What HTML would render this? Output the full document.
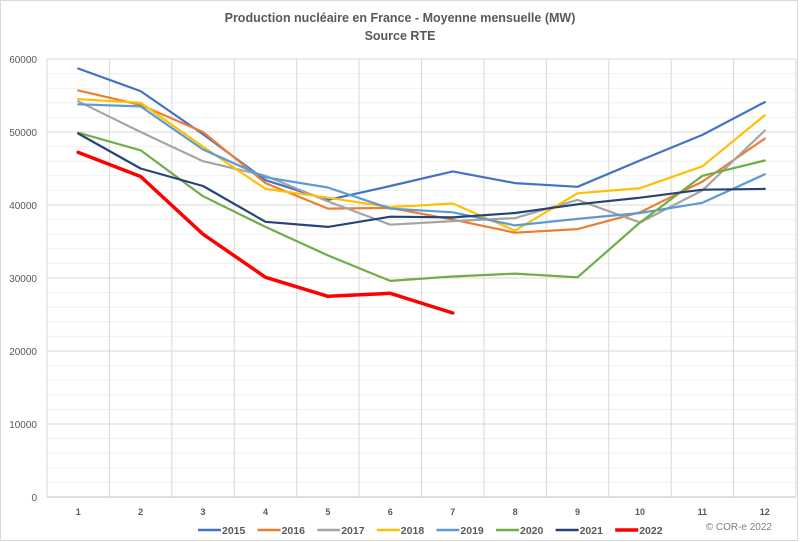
<!DOCTYPE html>
<html><head><meta charset="utf-8"><style>
html,body{margin:0;padding:0;background:#fff}
svg{display:block;font-family:"Liberation Sans",sans-serif}
</style></head><body>
<svg id="s" width="800" height="542" xmlns="http://www.w3.org/2000/svg">
<rect x="0.5" y="0.5" width="797" height="540" fill="#fff" stroke="#d9d9d9"/>
<text x="400" y="22" text-anchor="middle" font-size="12.5" font-weight="bold" fill="#595959">Production nucléaire en France - Moyenne mensuelle (MW)</text>
<text x="400" y="40" text-anchor="middle" font-size="12.5" font-weight="bold" fill="#595959">Source RTE</text>
<g id="grid"></g>
<g id="lines" fill="none" stroke-linejoin="round" stroke-linecap="round"></g>
<g id="lab" font-size="10" fill="#595959"></g>
<text x="772" y="530" text-anchor="end" font-size="10" fill="#7f7f7f">© COR-e 2022</text>
</svg>
<script>
var L=47,R=796,T=59,B=497,W=(R-L)/12,k=(B-T)/60000;
var g='',lab='';
for(var v=0;v<=60000;v+=2000){var y=B-v*k;var maj=v%10000==0;
 g+='<line x1="'+L+'" x2="'+R+'" y1="'+y+'" y2="'+y+'" stroke="'+(v==0?'#bfbfbf':(maj?'#d9d9d9':'#f0f0f0'))+'" stroke-width="1"/>';
 if(maj)lab+='<text x="37" y="'+(y+4)+'" text-anchor="end">'+v+'</text>';}
for(var i=0;i<=12;i++){var x=L+i*W;g+='<line x1="'+x+'" x2="'+x+'" y1="'+T+'" y2="'+B+'" stroke="#d9d9d9"/>';}
for(var i=0;i<12;i++){lab+='<text x="'+(L+(i+0.5)*W)+'" y="515" text-anchor="middle" font-size="9" font-weight="bold">'+(i+1)+'</text>';}
var d=[
['2015','#4472C4',2.2,[58700,55600,49700,43400,40700,42600,44600,43000,42500,46100,49600,54100]],
['2016','#ED7D31',2.2,[55700,53700,50000,43000,39500,39600,38000,36200,36700,39000,43200,49100]],
['2017','#A5A5A5',2.2,[54200,50000,46000,44000,40500,37300,37800,38200,40700,37600,42000,50200]],
['2018','#FFC000',2.2,[54500,54000,48000,42200,41000,39700,40200,36500,41600,42300,45300,52300]],
['2019','#5B9BD5',2.2,[53800,53500,47600,43800,42400,39500,39000,37200,38100,38900,40300,44200]],
['2020','#70AD47',2.2,[49900,47500,41200,37000,33100,29600,30200,30600,30100,37600,44000,46100]],
['2021','#264478',2.2,[49800,45000,42600,37700,37000,38400,38300,38900,40100,41000,42100,42200]],
['2022','#FF0000',3.5,[47200,43900,36000,30100,27500,27900,25200]]];
var ln='';
d.forEach(function(s,j){var p=s[3].map(function(v,i){return (L+(i+0.5)*W).toFixed(1)+','+(B-v*k).toFixed(1)}).join(' ');
 ln+='<polyline points="'+p+'" stroke="'+s[1]+'" stroke-width="'+s[2]+'"/>';
 var lx=198+j*59.6;
 lab+='<line x1="'+lx+'" x2="'+(lx+23)+'" y1="530" y2="530" stroke="'+s[1]+'" stroke-width="'+(j==7?3.5:2.5)+'"/>';
 lab+='<text x="'+(lx+24)+'" y="534" font-size="10.5" font-weight="bold">'+s[0]+'</text>';});
document.getElementById('grid').innerHTML=g;
document.getElementById('lines').innerHTML=ln;
document.getElementById('lab').innerHTML=lab;
</script>
</body></html>
